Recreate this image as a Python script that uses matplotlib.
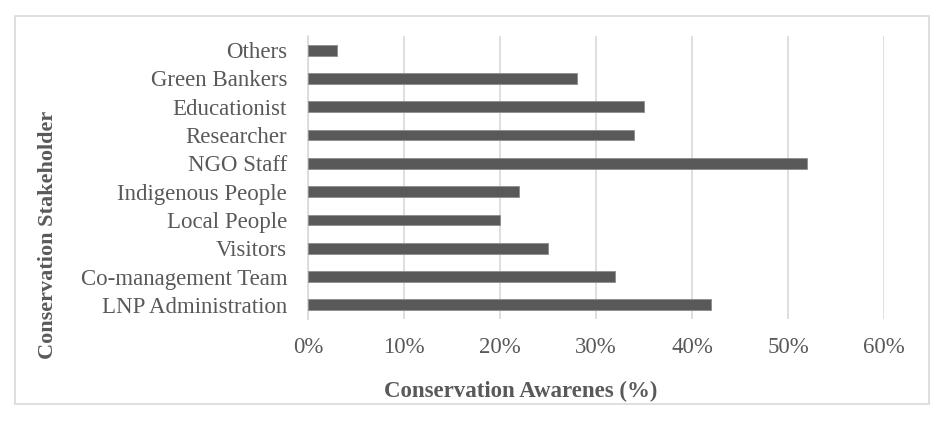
import numpy as np
import matplotlib.pyplot as plt
from matplotlib.patches import Rectangle

stakeholders = ['LNP Administration', 'Co-management Team', 'Visitors', 'Local People',
                'Indigenous People', 'NGO Staff', 'Researcher', 'Educationist',
                'Green Bankers', 'Others']
awareness = [42, 32, 25, 20, 22, 52, 34, 35, 28, 3]
xticks = [0, 10, 20, 30, 40, 50, 60]

plt.rcParams['font.family'] = ['Liberation Serif', 'DejaVu Serif']
txt = '#595959'

fig = plt.figure(figsize=(9.51, 4.23), dpi=100)
ax = fig.add_axes([308/951, 1 - 319/423, 576/951, 283/423])

y = np.arange(len(stakeholders))
ax.barh(y, awareness, height=0.38, color='#595959', edgecolor='#8c8c8c', linewidth=0.6, zorder=3)

ax.set_xlim(0, 60)
ax.set_ylim(-0.5, len(stakeholders) - 0.5)
ax.set_xticks(xticks)
ax.set_xticklabels([f'{t}%' for t in xticks])
ax.set_yticks(y)
ax.set_yticklabels(stakeholders)
ax.tick_params(axis='both', length=0, labelsize=16.5, labelcolor=txt)
ax.tick_params(axis='x', pad=13)
ax.tick_params(axis='y', pad=15)
ax.grid(axis='x', color='#d9d9d9', linewidth=1.2, zorder=0)
for s in ['top', 'right', 'bottom']:
    ax.spines[s].set_visible(False)
ax.spines['left'].set_color('#d9d9d9')
ax.spines['left'].set_linewidth(1.2)

fig.text(521/951, 1 - 391/423, 'Conservation Awarenes (%)', ha='center', va='center',
         fontsize=16.5, fontweight='bold', color=txt)
fig.text(48/951, 1 - 235/423, 'Conservation Stakeholder', ha='center', va='center',
         rotation=90, fontsize=16, fontweight='bold', color=txt)

fig.patches.append(Rectangle((15/951, 1 - 404/423), 914/951, 388/423, transform=fig.transFigure,
                             fill=False, edgecolor='#d9d9d9', linewidth=1.2))

fig.savefig('out.png', dpi=100)
